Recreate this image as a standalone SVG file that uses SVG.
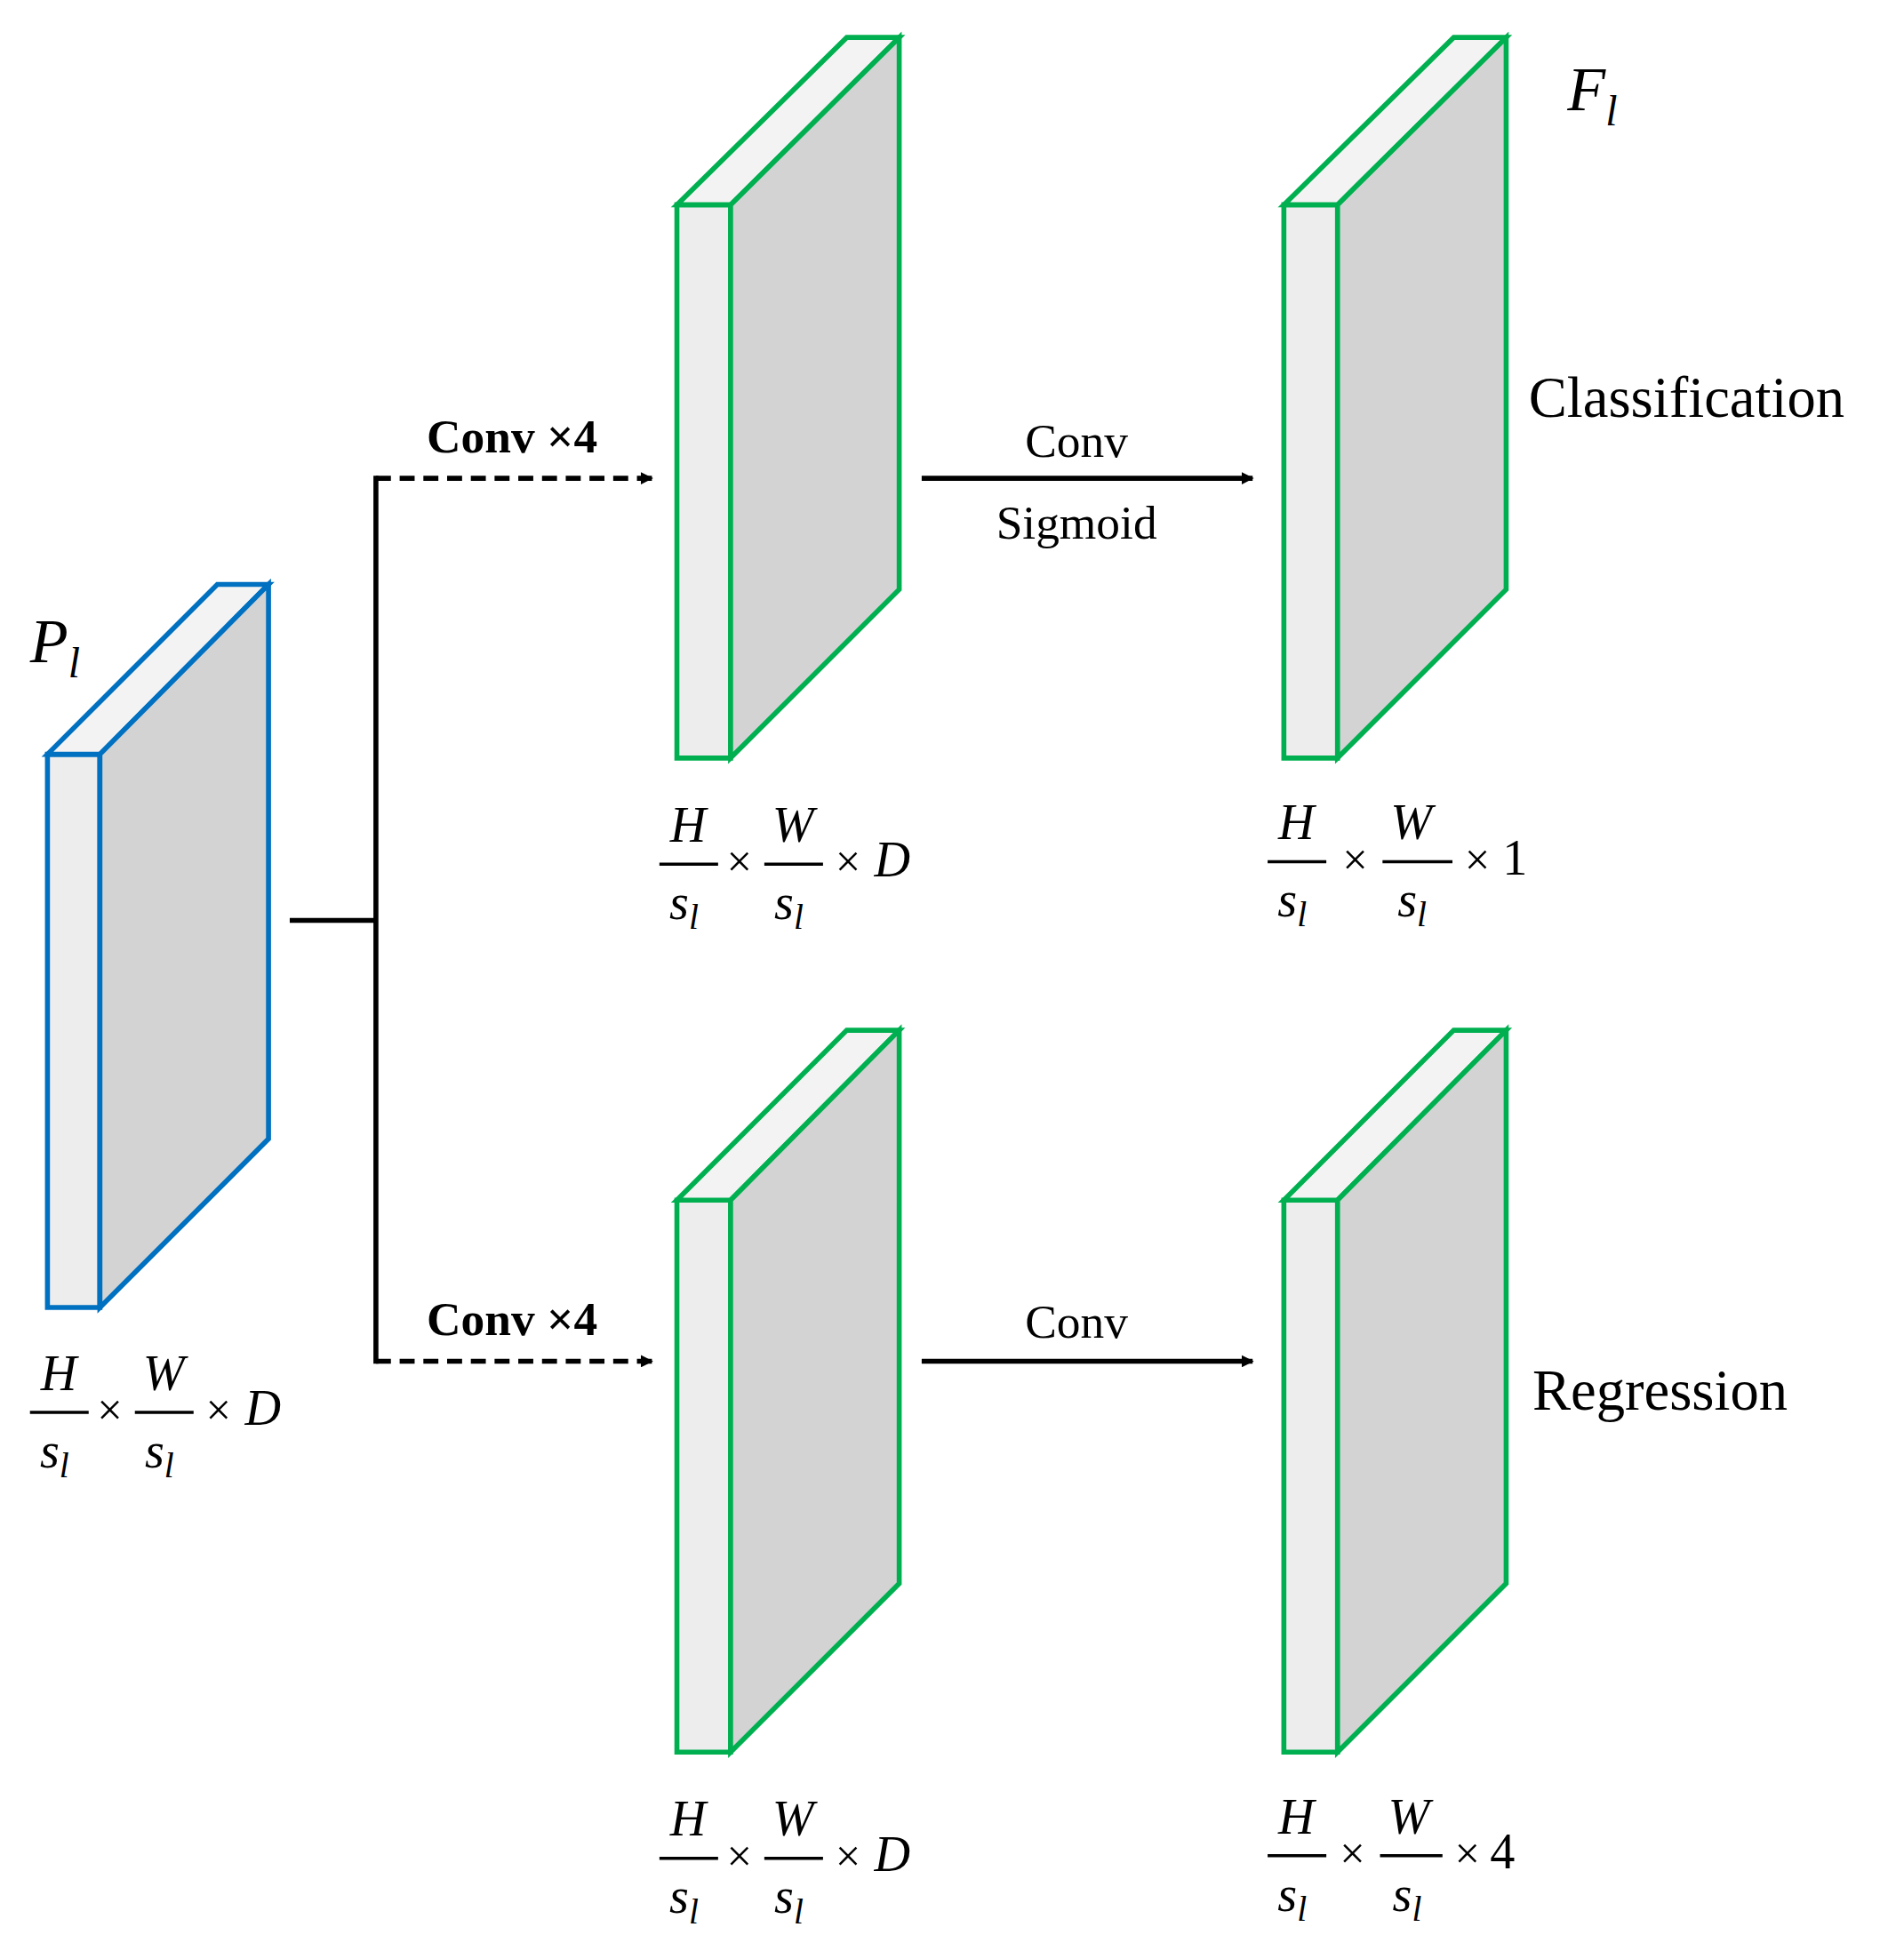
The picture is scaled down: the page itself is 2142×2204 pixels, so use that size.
<svg xmlns="http://www.w3.org/2000/svg" width="2142" height="2204" viewBox="0 0 2142 2204">
<style>
.t{font-family:"Liberation Serif",serif;fill:#000}
.i{font-style:italic}
.fr{stroke:#000;stroke-width:2.5}
.f{fill:#EDEDED}.tp{fill:#F3F3F3}.sd{fill:#D3D3D3}
.b{stroke:#0070C0;stroke-width:4;stroke-linejoin:miter}
.g{stroke:#00B050;stroke-width:4;stroke-linejoin:miter}
.c{stroke:#000;stroke-width:4;fill:none}
</style>
<defs>
<marker id="ah" markerWidth="10" markerHeight="10" refX="9" refY="5" orient="auto" markerUnits="userSpaceOnUse" viewBox="0 0 10 10"><path d="M0,0 L10,5 L0,10 z" fill="#000"/></marker>
</defs>
<rect width="2142" height="2204" fill="#fff"/>
<g transform="scale(1.405)">
<g id="P">
<polygon class="f b" points="38,604 80,604 80,1047 38,1047"/>
<polygon class="tp b" points="38,604 174,468 215,468 80,604"/>
<polygon class="sd b" points="80,604 215,468 215,912 80,1047"/>
<text class="t i" x="24" y="530" font-size="50">P<tspan font-size="34" dy="12">l</tspan></text>
</g>
<g id="A1">
<polygon class="f g" points="542,164 585,164 585,607 542,607"/>
<polygon class="tp g" points="542,164 678,30 720,30 585,164"/>
<polygon class="sd g" points="585,164 720,30 720,472 585,607"/>
</g>
<g id="A2">
<polygon class="f g" points="1028,164 1071,164 1071,607 1028,607"/>
<polygon class="tp g" points="1028,164 1164,30 1206,30 1071,164"/>
<polygon class="sd g" points="1071,164 1206,30 1206,472 1071,607"/>
<text class="t i" x="1255" y="88" font-size="50">F<tspan font-size="34" dy="12">l</tspan></text>
<text class="t" x="1224" y="334" font-size="46">Classification</text>
</g>
<g id="B1">
<polygon class="f g" points="542,961 585,961 585,1403 542,1403"/>
<polygon class="tp g" points="542,961 678,825 720,825 585,961"/>
<polygon class="sd g" points="585,961 720,825 720,1268 585,1403"/>
</g>
<g id="B2">
<polygon class="f g" points="1028,961 1071,961 1071,1403 1028,1403"/>
<polygon class="tp g" points="1028,961 1164,825 1206,825 1071,961"/>
<polygon class="sd g" points="1071,961 1206,825 1206,1268 1071,1403"/>
<text class="t" x="1227" y="1129" font-size="46">Regression</text>
</g>
<g id="connectors">
<path class="c" d="M232,737 H301 M301,381 V1092"/>
<path class="c" d="M301,383 H522" stroke-dasharray="12,7" marker-end="url(#ah)"/>
<path class="c" d="M301,1090 H522" stroke-dasharray="12,7" marker-end="url(#ah)"/>
<path class="c" d="M738,383 H1003" marker-end="url(#ah)"/>
<path class="c" d="M738,1090 H1003" marker-end="url(#ah)"/>
<text class="t" x="410" y="362" font-size="38" font-weight="bold" text-anchor="middle">Conv ×4</text>
<text class="t" x="410" y="1069" font-size="38" font-weight="bold" text-anchor="middle">Conv ×4</text>
<text class="t" x="862" y="366" font-size="38" text-anchor="middle">Conv</text>
<text class="t" x="862" y="431" font-size="38" text-anchor="middle">Sigmoid</text>
<text class="t" x="862" y="1071" font-size="38" text-anchor="middle">Conv</text>
</g>
<g id="labels" font-size="40">
<g transform="translate(24,1131)">
<text class="t i" x="23" y="-18" text-anchor="middle" font-size="40">H</text><line class="fr" x1="0" y1="0" x2="47" y2="0"/><text class="t i" x="8" y="44" font-size="40">s<tspan font-size="28" dy="8">l</tspan></text>
<text class="t" x="64" y="10" text-anchor="middle" font-size="36">×</text>
<text class="t i" x="107" y="-18" text-anchor="middle" font-size="40">W</text><line class="fr" x1="84" y1="0" x2="131" y2="0"/><text class="t i" x="92" y="44" font-size="40">s<tspan font-size="28" dy="8">l</tspan></text>
<text class="t" x="151" y="10" text-anchor="middle" font-size="36">×</text>
<text class="t i" x="172" y="10" font-size="40">D</text>
</g>
<g transform="translate(528,692)">
<text class="t i" x="23" y="-18" text-anchor="middle" font-size="40">H</text><line class="fr" x1="0" y1="0" x2="47" y2="0"/><text class="t i" x="8" y="44" font-size="40">s<tspan font-size="28" dy="8">l</tspan></text>
<text class="t" x="64" y="10" text-anchor="middle" font-size="36">×</text>
<text class="t i" x="107" y="-18" text-anchor="middle" font-size="40">W</text><line class="fr" x1="84" y1="0" x2="131" y2="0"/><text class="t i" x="92" y="44" font-size="40">s<tspan font-size="28" dy="8">l</tspan></text>
<text class="t" x="151" y="10" text-anchor="middle" font-size="36">×</text>
<text class="t i" x="172" y="10" font-size="40">D</text>
</g>
<g transform="translate(1015,690)">
<text class="t i" x="23" y="-18" text-anchor="middle" font-size="40">H</text><line class="fr" x1="0" y1="0" x2="47" y2="0"/><text class="t i" x="8" y="44" font-size="40">s<tspan font-size="28" dy="8">l</tspan></text>
<text class="t" x="70" y="10" text-anchor="middle" font-size="36">×</text>
<text class="t i" x="115" y="-18" text-anchor="middle" font-size="40">W</text><line class="fr" x1="92" y1="0" x2="148" y2="0"/><text class="t i" x="104" y="44" font-size="40">s<tspan font-size="28" dy="8">l</tspan></text>
<text class="t" x="168" y="10" text-anchor="middle" font-size="36">×</text>
<text class="t" x="188" y="10" font-size="40">1</text>
</g>
<g transform="translate(528,1488)">
<text class="t i" x="23" y="-18" text-anchor="middle" font-size="40">H</text><line class="fr" x1="0" y1="0" x2="47" y2="0"/><text class="t i" x="8" y="44" font-size="40">s<tspan font-size="28" dy="8">l</tspan></text>
<text class="t" x="64" y="10" text-anchor="middle" font-size="36">×</text>
<text class="t i" x="107" y="-18" text-anchor="middle" font-size="40">W</text><line class="fr" x1="84" y1="0" x2="131" y2="0"/><text class="t i" x="92" y="44" font-size="40">s<tspan font-size="28" dy="8">l</tspan></text>
<text class="t" x="151" y="10" text-anchor="middle" font-size="36">×</text>
<text class="t i" x="172" y="10" font-size="40">D</text>
</g>
<g transform="translate(1015,1486)">
<text class="t i" x="23" y="-18" text-anchor="middle" font-size="40">H</text><line class="fr" x1="0" y1="0" x2="47" y2="0"/><text class="t i" x="8" y="44" font-size="40">s<tspan font-size="28" dy="8">l</tspan></text>
<text class="t" x="68" y="10" text-anchor="middle" font-size="36">×</text>
<text class="t i" x="113" y="-18" text-anchor="middle" font-size="40">W</text><line class="fr" x1="90" y1="0" x2="140" y2="0"/><text class="t i" x="100" y="44" font-size="40">s<tspan font-size="28" dy="8">l</tspan></text>
<text class="t" x="160" y="10" text-anchor="middle" font-size="36">×</text>
<text class="t" x="178" y="10" font-size="40">4</text>
</g>
</g>
</g>
</svg>
